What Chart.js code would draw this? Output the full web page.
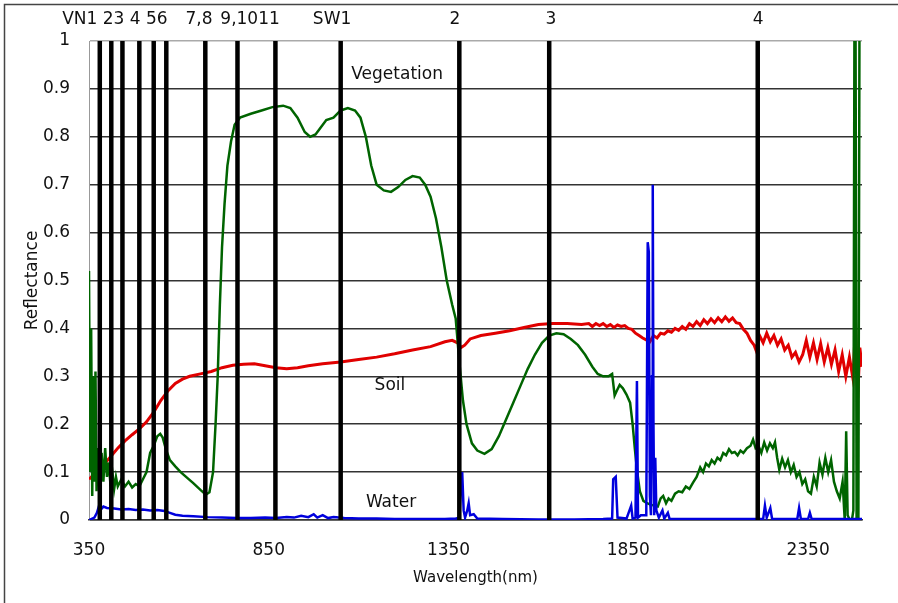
<!DOCTYPE html>
<html>
<head>
<meta charset="utf-8">
<script src="https://cdn.jsdelivr.net/npm/chart.js@4"></script>
<style>
  body { margin: 0; background: #fff; }
</style>
</head>
<body>
<canvas id="chartCanvas" width="898" height="603"></canvas>
<script>
// Werte (Wellenlaenge in nm, Reflexion 0..1)
const vegNm = [350,353,356,359,362,365,368,371,375,380,385,390,395,400,405,410,415,420,425,430,440,450,460,470,480,490,500,510,520,530,540,548,555,565,575,590,605,620,640,660,675,685,695,702,708,714,720,727,735,745,755,770,800,830,860,890,910,930,950,965,980,995,1010,1030,1050,1070,1090,1105,1120,1135,1150,1170,1190,1210,1230,1250,1270,1285,1300,1315,1330,1345,1360,1370,1380,1390,1400,1415,1430,1450,1470,1490,1510,1530,1550,1570,1590,1610,1630,1650,1670,1690,1710,1730,1750,1765,1780,1795,1805,1812,1818,1826,1835,1845,1855,1862,1868,1874,1882,1892,1902,1912,1922,1932,1940,1947,1955,1962,1970,1980,1990,2000,2010,2020,2030,2040,2050,2058,2066,2074,2082,2090,2098,2106,2114,2122,2130,2138,2146,2154,2162,2170,2180,2190,2197,2204,2212,2220,2228,2236,2244,2252,2258,2264,2270,2278,2286,2294,2302,2310,2318,2326,2334,2342,2350,2358,2366,2374,2382,2390,2398,2406,2414,2422,2430,2438,2446,2452,2456,2460,2466,2472,2476,2479,2482,2485,2490,2493,2496,2500];
const vegVal = [0.52,0.1,0.4,0.05,0.3,0.08,0.31,0.06,0.15,0.05,0.14,0.08,0.15,0.09,0.12,0.07,0.1,0.065,0.09,0.07,0.085,0.07,0.08,0.068,0.075,0.07,0.085,0.1,0.14,0.155,0.175,0.18,0.172,0.145,0.125,0.112,0.1,0.09,0.077,0.063,0.053,0.058,0.1,0.2,0.3,0.45,0.57,0.66,0.74,0.79,0.825,0.84,0.848,0.855,0.862,0.865,0.86,0.84,0.81,0.8,0.805,0.82,0.835,0.84,0.855,0.86,0.855,0.84,0.8,0.74,0.7,0.688,0.685,0.695,0.71,0.718,0.715,0.7,0.675,0.63,0.57,0.5,0.45,0.42,0.33,0.25,0.2,0.16,0.145,0.138,0.148,0.175,0.21,0.245,0.28,0.315,0.345,0.37,0.385,0.39,0.388,0.378,0.365,0.345,0.32,0.305,0.3,0.3,0.305,0.26,0.27,0.282,0.275,0.262,0.245,0.2,0.15,0.105,0.06,0.04,0.035,0.032,0.03,0.028,0.045,0.05,0.035,0.045,0.04,0.055,0.06,0.058,0.07,0.065,0.078,0.09,0.11,0.1,0.118,0.112,0.125,0.118,0.13,0.125,0.14,0.135,0.148,0.14,0.142,0.135,0.145,0.14,0.15,0.155,0.168,0.15,0.155,0.14,0.162,0.145,0.16,0.15,0.162,0.13,0.105,0.128,0.11,0.125,0.1,0.115,0.09,0.1,0.075,0.085,0.06,0.055,0.09,0.07,0.12,0.095,0.13,0.1,0.125,0.08,0.06,0.045,0.08,0.0,0.185,0.01,0.0,0.0,0.02,1.05,1.05,0.0,0.0,1.05,1.05,1.05];

const soilNm = [350,370,390,410,430,450,470,490,510,530,550,570,590,610,630,660,690,720,750,780,810,840,870,900,930,960,1000,1050,1100,1150,1200,1250,1300,1340,1360,1375,1385,1395,1410,1440,1480,1520,1560,1600,1640,1680,1720,1740,1750,1760,1770,1780,1790,1800,1810,1820,1830,1840,1850,1860,1870,1880,1890,1900,1910,1920,1930,1940,1950,1960,1970,1980,1990,2000,2010,2020,2030,2040,2050,2060,2070,2080,2090,2100,2110,2120,2130,2140,2150,2160,2170,2180,2190,2200,2205,2215,2225,2235,2245,2255,2265,2275,2285,2295,2305,2315,2325,2335,2345,2355,2365,2375,2385,2395,2405,2415,2425,2435,2445,2455,2465,2475,2482,2488,2494,2500];
const soilVal = [0.085,0.1,0.115,0.132,0.15,0.165,0.178,0.19,0.205,0.225,0.25,0.27,0.285,0.294,0.3,0.305,0.31,0.318,0.323,0.325,0.326,0.322,0.318,0.316,0.318,0.322,0.326,0.33,0.335,0.34,0.347,0.355,0.362,0.372,0.375,0.37,0.36,0.365,0.378,0.385,0.39,0.395,0.402,0.408,0.41,0.41,0.408,0.41,0.404,0.41,0.406,0.41,0.404,0.408,0.402,0.407,0.404,0.406,0.4,0.398,0.39,0.385,0.38,0.376,0.372,0.385,0.38,0.39,0.388,0.395,0.392,0.4,0.396,0.404,0.398,0.41,0.404,0.414,0.406,0.418,0.41,0.42,0.412,0.422,0.414,0.424,0.415,0.422,0.412,0.41,0.398,0.39,0.375,0.365,0.355,0.385,0.37,0.39,0.372,0.385,0.365,0.378,0.355,0.365,0.34,0.35,0.33,0.345,0.375,0.34,0.37,0.335,0.368,0.33,0.36,0.325,0.355,0.31,0.345,0.3,0.34,0.295,0.41,0.255,0.36,0.32];

const waterNm = [350,365,372,378,383,390,400,420,440,460,480,500,520,540,560,575,590,610,640,680,720,760,800,840,870,900,920,940,960,975,985,1000,1015,1030,1060,1100,1150,1200,1250,1300,1340,1370,1380,1384,1388,1392,1396,1402,1406,1410,1420,1430,1500,1600,1700,1780,1805,1808,1815,1820,1845,1858,1862,1870,1874,1877,1885,1900,1904,1907,1910,1913,1916,1918,1920,1922,1925,1928,1935,1945,1950,1960,1965,2000,2225,2230,2235,2245,2250,2320,2325,2330,2350,2355,2360,2500];
const waterVal = [0.0,0.005,0.015,0.03,0.022,0.028,0.025,0.024,0.022,0.023,0.021,0.022,0.02,0.021,0.019,0.015,0.011,0.009,0.008,0.006,0.005,0.004,0.004,0.005,0.004,0.006,0.005,0.009,0.006,0.012,0.005,0.01,0.004,0.006,0.004,0.003,0.003,0.002,0.002,0.002,0.002,0.003,0.004,0.06,0.1,0.02,0.005,0.02,0.035,0.01,0.012,0.003,0.002,0.001,0.001,0.002,0.003,0.085,0.09,0.005,0.003,0.03,0.003,0.005,0.29,0.005,0.01,0.01,0.58,0.56,0.05,0.01,0.3,0.7,0.2,0.01,0.13,0.02,0.005,0.02,0.003,0.015,0.002,0.002,0.002,0.03,0.005,0.025,0.002,0.002,0.025,0.002,0.002,0.015,0.002,0.002];

// Baender (senkrechte Linien) und Beschriftungen oben
const bandNm = [380, 412, 443, 490, 530, 565, 673.5, 763, 868.5, 1050, 1380, 1630, 2210];
const topLabelText = ['VN1 23 4 56', '7,8', '9,1011', 'SW1', '2', '3', '4'];
const topLabelNm = [422, 656, 798, 1026, 1368, 1635, 2211];

const seriesLabelText = ['Vegetation', 'Soil', 'Water'];
const seriesLabelNm = [1207, 1187, 1190];
const seriesLabelVal = [0.93, 0.281, 0.036];

const xTicks = [350, 850, 1350, 1850, 2350];

const FONT = "'DejaVu Sans', sans-serif";

function toPoints(xs, ys) {
  return xs.map((x, i) => ({ x: x, y: ys[i] }));
}

const rahmenPlugin = {
  id: 'rahmen',
  beforeDraw(chart) {
    const c = chart.ctx;
    c.save();
    c.fillStyle = '#fff';
    c.fillRect(0, 0, chart.width, chart.height);
    c.strokeStyle = '#444';
    c.lineWidth = 1.5;
    c.beginPath();
    c.moveTo(4.5, chart.height);
    c.lineTo(4.5, 4.5);
    c.lineTo(chart.width, 4.5);
    c.stroke();
    c.restore();
  },
  afterDatasetsDraw(chart) {
    const c = chart.ctx;
    const xs = chart.scales.x, ys = chart.scales.y;
    const a = chart.chartArea;
    c.save();
    c.strokeStyle = '#000';
    c.lineWidth = 4.5;
    bandNm.forEach(nm => {
      const px = xs.getPixelForValue(nm);
      c.beginPath();
      c.moveTo(px, a.top);
      c.lineTo(px, a.bottom);
      c.stroke();
    });
    c.fillStyle = '#111';
    c.font = '17px ' + FONT;
    c.textAlign = 'center';
    c.textBaseline = 'middle';
    seriesLabelText.forEach((t, i) => {
      c.fillText(t, xs.getPixelForValue(seriesLabelNm[i]), ys.getPixelForValue(seriesLabelVal[i]));
    });
    c.restore();
  },
  afterDraw(chart) {
    const c = chart.ctx;
    const xs = chart.scales.x;
    c.save();
    c.fillStyle = '#111';
    c.font = '17px ' + FONT;
    c.textAlign = 'center';
    c.textBaseline = 'middle';
    topLabelText.forEach((t, i) => {
      c.fillText(t, xs.getPixelForValue(topLabelNm[i]), 20);
    });
    c.restore();
  }
};

const ctx = document.getElementById('chartCanvas').getContext('2d');

new Chart(ctx, {
  type: 'line',
  data: {
    datasets: [
      { label: 'Water', data: toPoints(waterNm, waterVal), borderColor: '#0000dd', borderWidth: 2.5 },
      { label: 'Vegetation', data: toPoints(vegNm, vegVal), borderColor: '#006400', borderWidth: 2.5 },
      { label: 'Soil', data: toPoints(soilNm, soilVal), borderColor: '#e00000', borderWidth: 3 }
    ]
  },
  options: {
    responsive: false,
    animation: false,
    events: [],
    elements: { point: { radius: 0 }, line: { tension: 0 } },
    layout: { padding: { top: 41, right: 36, left: 0, bottom: 0 } },
    plugins: { legend: { display: false }, tooltip: { enabled: false } },
    scales: {
      x: {
        type: 'linear',
        min: 350,
        max: 2500,
        afterBuildTicks: scale => { scale.ticks = xTicks.map(v => ({ value: v })); },
        afterFit: scale => { scale.height = 83; },
        grid: { display: false, drawTicks: false },
        border: { display: true, color: '#333', width: 1.5 },
        ticks: {
          color: '#111',
          font: { family: FONT, size: 17 },
          padding: 20,
          maxRotation: 0,
          callback: v => String(v)
        },
        title: {
          display: true,
          text: 'Wavelength(nm)',
          color: '#111',
          font: { family: FONT, size: 15 },
          padding: { top: 0, bottom: 16 }
        }
      },
      y: {
        min: 0,
        max: 1,
        afterFit: scale => { scale.width = 89; },
        grid: {
          drawTicks: false,
          color: c => (c.tick && c.tick.value === 1 ? '#aaa' : '#333'),
          lineWidth: 1.5
        },
        border: { display: true, color: '#999', width: 1 },
        ticks: {
          stepSize: 0.1,
          color: '#111',
          font: { family: FONT, size: 17 },
          padding: 19,
          callback: v => String(+v.toFixed(1))
        },
        title: {
          display: true,
          text: 'Reflectance',
          color: '#111',
          font: { family: FONT, size: 17 },
          padding: { top: 22, bottom: 0 }
        }
      }
    }
  },
  plugins: [rahmenPlugin]
});
</script>
</body>
</html>
